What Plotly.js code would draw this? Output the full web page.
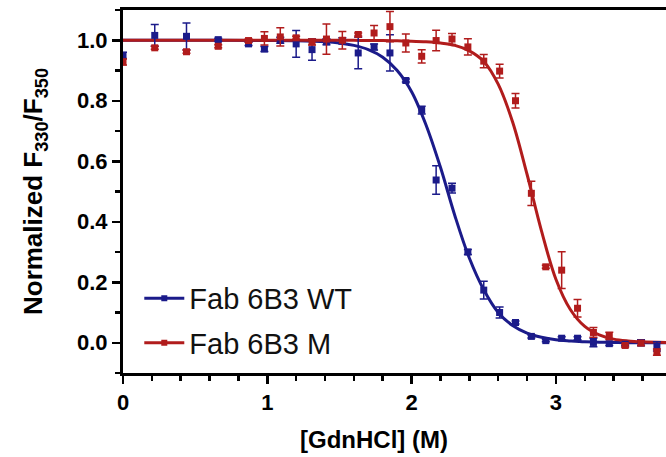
<!DOCTYPE html>
<html>
<head>
<meta charset="utf-8">
<script src="https://cdn.plot.ly/plotly-3.0.1.min.js"></script>
<style>html,body{margin:0;padding:0;background:#fff;overflow:hidden}#chart{width:666px;height:457px}</style>
</head>
<body>
<div id="chart"></div>
<script>
// GdnHCl concentration (M) of the measured points
const conc = [0, 0.22, 0.44, 0.66, 0.87, 0.98, 1.09, 1.2, 1.31, 1.41, 1.52, 1.63, 1.74, 1.85, 1.96, 2.07, 2.17, 2.28, 2.39, 2.5, 2.61, 2.72, 2.83, 2.93, 3.04, 3.15, 3.26, 3.37, 3.48, 3.59, 3.7];
// Fab 6B3 WT
const wtVal = [0.95, 1.016, 1.013, 1.002, 0.988, 0.971, 1.0, 0.988, 0.969, 0.995, 0.998, 0.958, 0.978, 0.958, 0.867, 0.769, 0.538, 0.511, 0.30, 0.174, 0.10, 0.067, 0.021, 0.007, 0.015, 0.015, 0.001, -0.003, -0.005, 0.0, -0.012];
const wtErr = [0.01, 0.036, 0.044, 0.005, 0.005, 0.008, 0.01, 0.044, 0.035, 0.01, 0.01, 0.052, 0.01, 0.06, 0.005, 0.013, 0.047, 0.016, 0.008, 0.029, 0.018, 0.005, 0.005, 0.004, 0.005, 0.005, 0.014, 0.006, 0.005, 0.01, 0.015];
// Fab 6B3 M
const mVal = [0.928, 0.975, 0.962, 0.98, 0.999, 1.006, 1.011, 1.008, 0.994, 1.004, 1.0, 1.019, 1.024, 1.045, 0.991, 0.947, 0.999, 1.004, 0.978, 0.931, 0.898, 0.80, 0.494, 0.251, 0.24, 0.114, 0.034, 0.023, -0.009, -0.001, -0.031];
const mErr = [0.01, 0.005, 0.005, 0.005, 0.005, 0.022, 0.03, 0.005, 0.01, 0.05, 0.029, 0.005, 0.025, 0.05, 0.03, 0.022, 0.034, 0.018, 0.027, 0.022, 0.023, 0.024, 0.04, 0.005, 0.061, 0.029, 0.016, 0.012, 0.005, 0.008, 0.01];
// fitted curves
const fitX = [0, 0.5, 1.0, 1.2, 1.4, 1.5, 1.6, 1.7, 1.8, 1.9, 2.0, 2.1, 2.2, 2.3, 2.4, 2.5, 2.6, 2.7, 2.8, 2.9, 3.0, 3.1, 3.2, 3.3, 3.4, 3.5, 3.6, 3.8];
const wtFit = [1.0, 1.0, 0.999, 0.998, 0.995, 0.991, 0.983, 0.969, 0.944, 0.9, 0.83, 0.72, 0.58, 0.42, 0.28, 0.175, 0.10, 0.057, 0.032, 0.018, 0.01, 0.006, 0.003, 0.002, 0.001, 0.0, 0.0, 0.0];
const mFit = [1.0, 1.0, 1.0, 1.0, 1.0, 1.0, 1.0, 0.999, 0.999, 0.998, 0.997, 0.995, 0.991, 0.983, 0.965, 0.93, 0.855, 0.73, 0.557, 0.37, 0.21, 0.11, 0.054, 0.026, 0.012, 0.006, 0.003, 0.0];
const names = ["Fab 6B3 WT", "Fab 6B3 M"];
const xTicks = [0, 1, 2, 3];
const yTicks = [0, 0.2, 0.4, 0.6, 0.8, 1.0];

const BLUE = "#1b1b8a", RED = "#b11c1c";
const FONT = "Arial, 'Liberation Sans', sans-serif";

const traces = [
  {x: fitX, y: wtFit, mode: "lines", line: {color: BLUE, width: 3, shape: "spline"}, showlegend: false, hoverinfo: "skip"},
  {x: fitX, y: mFit, mode: "lines", line: {color: RED, width: 3, shape: "spline"}, showlegend: false, hoverinfo: "skip"},
  {x: conc, y: wtVal, mode: "markers", marker: {symbol: "square", size: 7, color: BLUE},
   error_y: {type: "data", array: wtErr, color: BLUE, thickness: 1.5, width: 4}, showlegend: false},
  {x: conc, y: mVal, mode: "markers", marker: {symbol: "square", size: 7, color: RED},
   error_y: {type: "data", array: mErr, color: RED, thickness: 1.5, width: 4}, showlegend: false},
  {x: [null], y: [null], name: names[0], legendgroup: "wt", mode: "lines+markers", line: {color: BLUE, width: 3}, marker: {symbol: "square", size: 6, color: BLUE}},
  {x: [null], y: [null], name: names[1], legendgroup: "m", mode: "lines+markers", line: {color: RED, width: 3}, marker: {symbol: "square", size: 6, color: RED}}
];

const layout = {
  width: 666, height: 457,
  margin: {l: 123, r: 0, t: 10, b: 84},
  paper_bgcolor: "#fff", plot_bgcolor: "#fff",
  font: {family: FONT, color: "#000"},
  showlegend: true,
  legend: {x: 0.03, y: 0.276, xanchor: "left", yanchor: "top", itemwidth: 40,
           font: {size: 29, family: FONT, color: "#111"}, bgcolor: "rgba(0,0,0,0)", tracegroupgap: 4},
  xaxis: {range: [0, 3.763], tickvals: xTicks, ticktext: xTicks.map(String), automargin: false,
          showgrid: false, zeroline: false, showline: true, linecolor: "#000", linewidth: 3, mirror: true,
          ticks: "outside", ticklen: 8, tickwidth: 2.5, tickcolor: "#000",
          minor: {dtick: 0.2, ticks: "outside", ticklen: 5, tickwidth: 2.5, tickcolor: "#000", showgrid: false},
          tickfont: {size: 22, family: FONT, weight: "bold", color: "#000"}},
  yaxis: {range: [-0.1, 1.1], tickvals: yTicks, ticktext: yTicks.map(v => v.toFixed(1)), automargin: false,
          showgrid: false, zeroline: false, showline: true, linecolor: "#000", linewidth: 3,
          ticks: "outside", ticklen: 8, tickwidth: 2.5, tickcolor: "#000",
          minor: {dtick: 0.1, ticks: "outside", ticklen: 5, tickwidth: 2.5, tickcolor: "#000", showgrid: false},
          tickfont: {size: 22, family: FONT, weight: "bold", color: "#000"},
          title: {text: "Normalized F<sub>330</sub>/F<sub>350</sub>", standoff: 27,
                  font: {size: 26, family: FONT, weight: "bold", color: "#000"}}},
  annotations: [{xref: "paper", yref: "paper", x: 1.74 / 3.763, y: -66 / 363, xanchor: "center", yanchor: "middle",
                 text: "[GdnHCl] (M)", showarrow: false, font: {size: 24, family: FONT, weight: "bold", color: "#000"}}]
};

Plotly.newPlot("chart", traces, layout, {displayModeBar: false, staticPlot: true});
</script>
</body>
</html>
